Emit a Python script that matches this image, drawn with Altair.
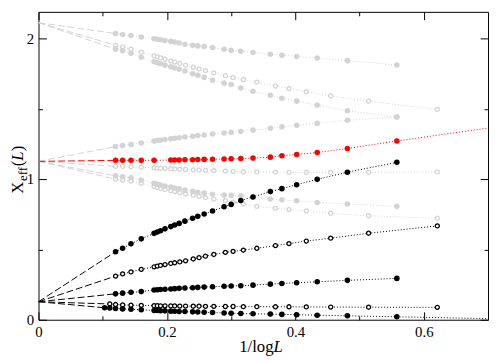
import altair as alt
import pandas as pd

# ---------------- data ----------------
# x = 1/log L for the even-L (filled) and odd-L (open) sizes
X_FILLED = [0.103, 0.111, 0.120, 0.131, 0.144, 0.160, 0.180, 0.185, 0.190, 0.197,
            0.206, 0.212, 0.219, 0.228, 0.240, 0.248, 0.258, 0.271, 0.289, 0.300,
            0.315, 0.334, 0.361, 0.379, 0.402, 0.434, 0.481, 0.558]
X_OPEN = [0.111, 0.120, 0.131, 0.144, 0.160, 0.180, 0.185, 0.190, 0.197, 0.206,
          0.212, 0.220, 0.229, 0.241, 0.250, 0.260, 0.273, 0.291, 0.303, 0.319,
          0.340, 0.369, 0.390, 0.417, 0.455, 0.514, 0.621]
X_RED = [0.120, 0.131, 0.144, 0.160, 0.180, 0.206, 0.212, 0.219, 0.228, 0.240,
         0.248, 0.258, 0.271, 0.289, 0.300, 0.315, 0.334, 0.361, 0.379, 0.402,
         0.434, 0.481, 0.558]

# extrapolated limits at 1/logL = 0
LIM_GRAY_TOP = 2.112
LIM_MID = 1.126
LIM_BLACK = 0.128

# gray series (upper group)
G1 = [2.035, 2.028, 2.021, 2.010, 1.998, 1.994, 1.990, 1.985, 1.979, 1.974, 1.968, 1.959, 1.952,
      1.947, 1.942, 1.935, 1.923, 1.916, 1.909, 1.900, 1.888, 1.881, 1.872, 1.860, 1.842, 1.811]
G2 = [1.951, 1.940, 1.923, 1.902, 1.876, 1.869, 1.862, 1.852, 1.840, 1.832, 1.822, 1.810, 1.795,
      1.783, 1.771, 1.755, 1.735, 1.722, 1.708, 1.689, 1.661, 1.643, 1.621, 1.591, 1.554, 1.495]
G3 = [1.923, 1.912, 1.895, 1.866, 1.834, 1.827, 1.820, 1.810, 1.798, 1.790, 1.781, 1.768, 1.749,
      1.738, 1.723, 1.703, 1.682, 1.672, 1.647, 1.624, 1.596, 1.575, 1.554, 1.526, 1.486, 1.441]
# gray series (middle group)
G4 = [1.231, 1.238, 1.246, 1.257, 1.270, 1.274, 1.277, 1.281, 1.286, 1.290, 1.294, 1.299, 1.305,
      1.309, 1.314, 1.320, 1.328, 1.332, 1.338, 1.348, 1.361, 1.371, 1.382, 1.396, 1.418, 1.441]
G5 = [1.091, 1.090, 1.087, 1.084, 1.079, 1.078, 1.077, 1.076, 1.074, 1.072, 1.070, 1.068, 1.066,
      1.064, 1.062, 1.060, 1.057, 1.055, 1.052, 1.051, 1.049, 1.048, 1.047, 1.047, 1.047, 1.051]
G6 = [1.023, 1.016, 1.009, 0.993, 0.970, 0.964, 0.958, 0.951, 0.943, 0.937, 0.931, 0.923, 0.913,
      0.907, 0.900, 0.892, 0.886, 0.884, 0.881, 0.872, 0.858, 0.853, 0.846, 0.834, 0.823, 0.806]
G7 = [1.000, 0.993, 0.986, 0.970, 0.946, 0.940, 0.934, 0.926, 0.918, 0.911, 0.903, 0.894, 0.884,
      0.877, 0.868, 0.858, 0.846, 0.836, 0.823, 0.806, 0.792, 0.783, 0.774, 0.757, 0.739, 0.722]
# red series
R1 = [1.133, 1.133, 1.133, 1.133, 1.134, 1.135, 1.135, 1.136, 1.137, 1.138, 1.139, 1.140,
      1.141, 1.143, 1.144, 1.146, 1.149, 1.156, 1.166, 1.175, 1.189, 1.217, 1.271]
R1_TAIL = (0.721, 1.376)
# black series
B1 = [0.483, 0.508, 0.540, 0.575, 0.614, 0.624, 0.633, 0.646, 0.662, 0.673, 0.685, 0.701, 0.722,
      0.735, 0.752, 0.773, 0.803, 0.820, 0.848, 0.873, 0.911, 0.932, 0.960, 0.998, 1.049, 1.119]
B2 = [0.310, 0.326, 0.340, 0.358, 0.376, 0.381, 0.386, 0.392, 0.400, 0.405, 0.411, 0.419, 0.432,
      0.441, 0.452, 0.464, 0.479, 0.486, 0.495, 0.508, 0.527, 0.541, 0.559, 0.580, 0.615, 0.667]
B3 = [0.184, 0.189, 0.195, 0.200, 0.211, 0.213, 0.215, 0.217, 0.219, 0.221, 0.223, 0.225, 0.228,
      0.230, 0.232, 0.235, 0.238, 0.240, 0.242, 0.246, 0.253, 0.258, 0.263, 0.270, 0.280, 0.294]
B4 = [0.112, 0.108, 0.105, 0.103, 0.102, 0.100, 0.100, 0.099, 0.099, 0.098, 0.098, 0.097, 0.097,
      0.096, 0.096, 0.095, 0.095, 0.094, 0.094, 0.093, 0.093, 0.092, 0.092, 0.091, 0.090, 0.089, 0.088]
B5 = [0.085, 0.083, 0.080, 0.077, 0.074, 0.071, 0.066, 0.065, 0.064, 0.063, 0.061, 0.060, 0.059,
      0.058, 0.056, 0.055, 0.053, 0.051, 0.048, 0.046, 0.044, 0.042, 0.040, 0.038, 0.036, 0.032,
      0.028, 0.021]
B5_TAIL = (0.721, 0.006)

X_TICKS = [0, 0.2, 0.4, 0.6]
X_MINOR = [0.1, 0.3, 0.5]
Y_TICKS = [0, 1, 2]
Y_MINOR = [0.5, 1.5]

GRAY, RED, BLACK = "#d3d3d3", "#ff0000", "#000000"
FONT = "Liberation Serif"

SERIES = [
    ("g1", GRAY, True, X_FILLED, G1, LIM_GRAY_TOP, None),
    ("g2", GRAY, False, X_OPEN, G2, LIM_GRAY_TOP, None),
    ("g3", GRAY, True, X_FILLED, G3, LIM_GRAY_TOP, None),
    ("g4", GRAY, True, X_FILLED, G4, LIM_MID, None),
    ("g5", GRAY, False, X_OPEN, G5, LIM_MID, None),
    ("g6", GRAY, True, X_FILLED, G6, LIM_MID, None),
    ("g7", GRAY, False, X_OPEN, G7, LIM_MID, None),
    ("r1", RED, True, X_RED, R1, LIM_MID, R1_TAIL),
    ("b1", BLACK, True, X_FILLED, B1, LIM_BLACK, None),
    ("b2", BLACK, False, X_OPEN, B2, LIM_BLACK, None),
    ("b3", BLACK, True, X_FILLED, B3, LIM_BLACK, None),
    ("b4", BLACK, False, X_OPEN, B4, LIM_BLACK, None),
    ("b5", BLACK, True, X_FILLED, B5, LIM_BLACK, B5_TAIL),
]

pts, lines, dashes = [], [], []
for name, col, filled, xs, ys, y0, tail in SERIES:
    xu = xs[-len(ys):]
    for xv, yv in zip(xu, ys):
        pts.append(dict(x=xv, y=yv, s=name, c=col, f=filled, k="k" if col == BLACK else "g"))
        lines.append(dict(x=xv, y=yv, s=name, c=col))
    if tail is not None:
        lines.append(dict(x=tail[0], y=tail[1], s=name, c=col))
    dashes.append(dict(x=0.0, y=y0, s=name, c=col))
    dashes.append(dict(x=xu[0], y=ys[0], s=name, c=col))

df_pts = pd.DataFrame(pts)
df_lines = pd.DataFrame(lines)
df_dash = pd.DataFrame(dashes)

XS = alt.Scale(domain=[0, 0.7], nice=False, zero=False)
YS = alt.Scale(domain=[0, 2.189], nice=False, zero=False)


def lab_axis(orient, values, fmt):
    return alt.Axis(orient=orient, values=values, format=fmt, ticks=False, tickSize=0,
                    domain=False, grid=False, labelFont=FONT, labelFontSize=15,
                    labelColor="black", labelPadding=5, labelFlush=False, title=None)


def tick_axis(orient, values, size):
    return alt.Axis(orient=orient, values=values, labels=False, ticks=True, tickSize=size,
                    offset=-size, domain=False, grid=False, tickColor="black",
                    tickWidth=1, title=None)


def enc(xaxis, yaxis):
    return dict(x=alt.X("x:Q", scale=XS, axis=xaxis), y=alt.Y("y:Q", scale=YS, axis=yaxis))


dash_layer = alt.Chart(df_dash).mark_line(strokeWidth=1, strokeDash=[7, 3], clip=True).encode(
    **enc(lab_axis("bottom", X_TICKS, "~g"), lab_axis("left", Y_TICKS, "d")),
    stroke=alt.Stroke("c:N", scale=None), detail="s:N")

dot_layer = alt.Chart(df_lines).mark_line(strokeWidth=1, strokeDash=[1, 2], clip=True).encode(
    **enc(tick_axis("bottom", X_TICKS, 8), tick_axis("left", Y_TICKS, 8)),
    stroke=alt.Stroke("c:N", scale=None), detail="s:N")

open_g = alt.Chart(df_pts[(~df_pts.f) & (df_pts.k == "g")]).mark_point(
    shape="circle", filled=True, fill="white", fillOpacity=1, strokeWidth=1.3, size=17,
    opacity=1, clip=True).encode(
    **enc(tick_axis("top", X_TICKS, 8), tick_axis("right", Y_TICKS, 8)),
    stroke=alt.Stroke("c:N", scale=None))

filled_g = alt.Chart(df_pts[(df_pts.f) & (df_pts.k == "g")]).mark_circle(
    size=32, opacity=1, clip=True).encode(
    **enc(tick_axis("bottom", X_MINOR, 4), tick_axis("left", Y_MINOR, 4)),
    color=alt.Color("c:N", scale=None))

open_k = alt.Chart(df_pts[(~df_pts.f) & (df_pts.k == "k")]).mark_point(
    shape="circle", filled=True, fill="white", fillOpacity=1, strokeWidth=1.3, size=17,
    opacity=1, clip=True).encode(
    **enc(tick_axis("top", X_MINOR, 4), tick_axis("right", Y_MINOR, 4)),
    stroke=alt.Stroke("c:N", scale=None))

filled_k = alt.Chart(df_pts[(df_pts.f) & (df_pts.k == "k")]).mark_circle(
    size=32, opacity=1, clip=True).encode(
    **enc(None, None),
    color=alt.Color("c:N", scale=None))


def txt(text, px, py, size, style="normal", angle=0):
    return alt.Chart(pd.DataFrame({"t": [text]})).mark_text(
        font=FONT, fontSize=size, fontStyle=style, align="left", baseline="alphabetic",
        angle=angle, color="black").encode(
        x=alt.value(px), y=alt.value(py), text="t:N")


titles = [
    txt("1/log", 204, 346, 17),
    txt("L", 239, 346, 17, "italic"),
    txt("X", -15.5, 185, 17, angle=270),
    txt("eff", -11.5, 172, 13, angle=270),
    txt("(", -15.5, 157, 17, angle=270),
    txt("L", -15.5, 151.3, 17, "italic", angle=270),
    txt(")", -15.5, 141.8, 17, angle=270),
]

chart = alt.layer(dash_layer, dot_layer, open_g, filled_g, open_k, filled_k, *titles).resolve_axis(
    x="independent", y="independent"
).properties(
    width=457, height=313,
    autosize=alt.AutoSizeParams(type="none"),
    padding={"left": 31, "top": 1, "right": 2, "bottom": 36},
).configure_view(stroke="black", strokeWidth=1)

chart.save("out.html", embed_options={"renderer": "svg", "actions": False})
